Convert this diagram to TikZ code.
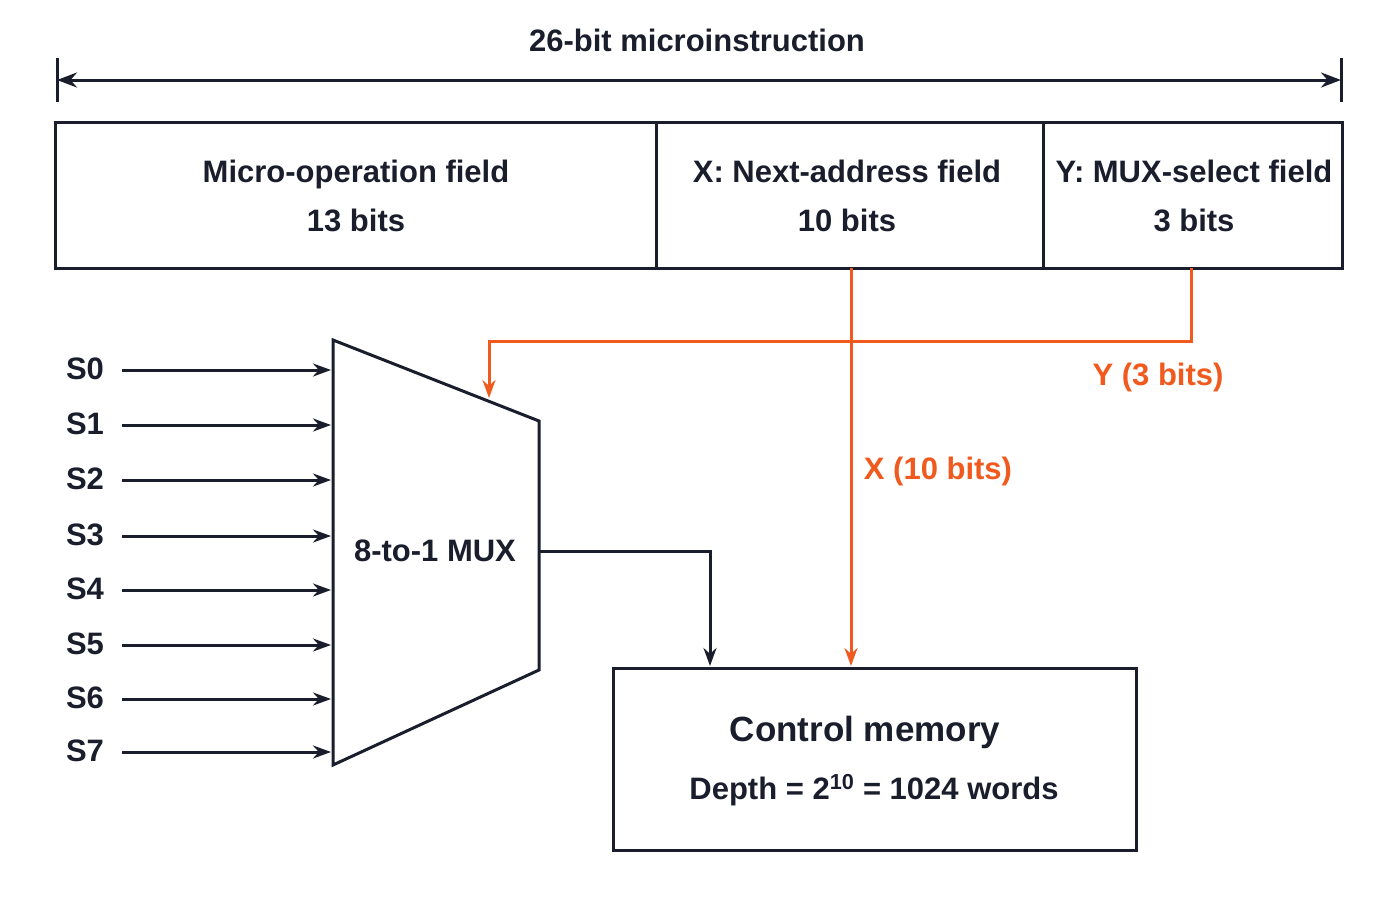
\documentclass[tikz,border=0pt]{standalone}
\usepackage{fontspec}
\setmainfont{Liberation Sans}
\usetikzlibrary{arrows.meta}
\definecolor{org}{HTML}{F05A1E}
\definecolor{ink}{HTML}{1A1E2C}
\begin{document}
\begin{tikzpicture}[x=1pt,y=-1pt,
  ln/.style={draw=ink,line width=3pt},
  arr/.style={ln,-{Stealth[length=18pt,width=13pt]}},
  oarr/.style={draw=org,line width=3pt,-{Stealth[length=18pt,width=13pt]}},
  txt/.style={font=\fontsize{31}{34}\selectfont\bfseries,text=ink,inner sep=0pt,text height=22pt,text depth=6pt},
  otxt/.style={font=\fontsize{31}{34}\selectfont\bfseries,text=org,inner sep=0pt,text height=22pt,text depth=6pt}]
\useasboundingbox (0,0) rectangle (1400,900);
% title and span arrow
\node[txt] (title) at (697,43) {26-bit microinstruction};
\coordinate (la) at (57,80); \coordinate (ra) at (1341,80);
\draw[ln] (57,58) -- (57,102); \draw[ln] (1341,58) -- (1341,102);
\draw[ln,{Stealth[length=20pt,width=15pt]}-{Stealth[length=20pt,width=15pt]}] (la) -- (ra);
% word fields
\draw[ln] (55,122) rectangle (1342,268);
\draw[ln] (656,122) -- (656,268);
\draw[ln] (1043,122) -- (1043,268);
\node[txt] (f1a) at (356,174) {Micro-operation field};
\node[txt] (f1b) at (356,223) {13 bits};
\node[txt] (f2a) at (847,174) {X: Next-address field};
\node[txt] (f2b) at (847,223) {10 bits};
\node[txt] (f3a) at (1194,174) {Y: MUX-select field};
\node[txt] (f3b) at (1194,223) {3 bits};
% MUX
\draw[ln,line join=miter] (333,340) -- (539,421) -- (539,670) -- (333,765) -- cycle;
\node[txt] (mux) at (435,553) {8-to-1 MUX};
\foreach \i/\y in {0/370,1/425,2/480,3/536,4/590,5/645,6/699,7/752}{
  \node[txt] (s\i) at (85,\y+1) {S\i};
  \coordinate (m\i) at (331,\y);
  \draw[arr] (122,\y) -- (m\i);
}
% control memory
\draw[ln] (613,668) rectangle (1136,850);
\node[font=\fontsize{35}{38}\selectfont\bfseries,text=ink,inner sep=0pt,text height=25pt,text depth=7pt] (cm) at (865,732) {Control memory};
\node[txt] (cmd) at (874,791) {Depth = 2\textsuperscript{10} = 1024 words};
% MUX output
\coordinate (mo) at (539,551);
\coordinate (cmi) at (710,666);
\draw[arr] (mo) -- (710,551) -- (cmi);
% X line
\coordinate (xs) at (851,268); \coordinate (xe) at (851,666);
\draw[oarr] (xs) -- (xe);
\node[otxt] (xl) at (938,471) {X (10 bits)};
% Y line
\coordinate (ys) at (1191,268); \coordinate (ye) at (489,398);
\draw[oarr] (ys) -- (1191,341) -- (489,341) -- (ye);
\node[otxt] (yl) at (1158,377) {Y (3 bits)};
\end{tikzpicture}
\end{document}
